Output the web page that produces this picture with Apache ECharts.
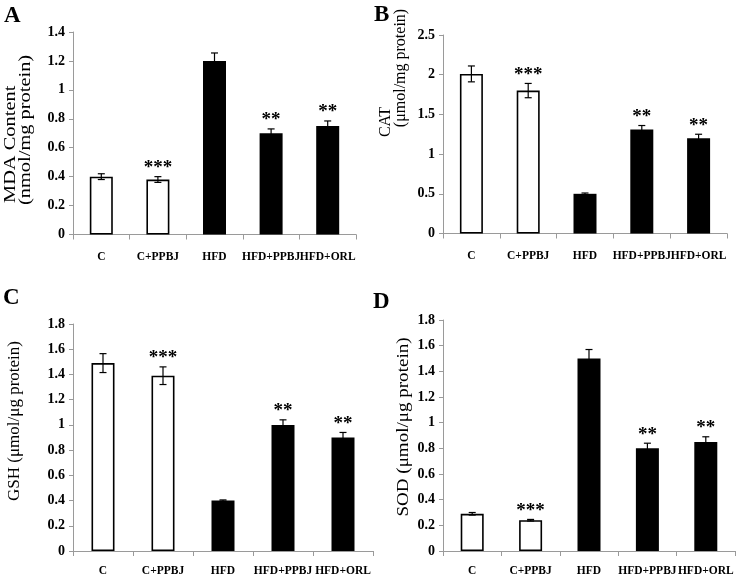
<!DOCTYPE html>
<html>
<head>
<meta charset="utf-8">
<script src="https://cdn.jsdelivr.net/npm/echarts@6/dist/echarts.min.js"></script>
<style>html,body{margin:0;padding:0;background:#fff;}#c{width:737px;height:579px;}</style>
</head>
<body>
<div id="c"></div>
<script>
// ---- data ----
const categories = ['C', 'C+PPBJ', 'HFD', 'HFD+PPBJ', 'HFD+ORL'];
const mdaVals = [0.40, 0.38, 1.20, 0.70, 0.75];
const mdaErr  = [0.02, 0.02, 0.055, 0.03, 0.035];
const catVals = [2.01, 1.80, 0.50, 1.31, 1.20];
const catErr  = [0.10, 0.09, 0.01, 0.05, 0.05];
const gshVals = [1.49, 1.39, 0.40, 1.00, 0.90];
const gshErr  = [0.075, 0.07, 0.005, 0.04, 0.04];
const sodVals = [0.29, 0.24, 1.50, 0.80, 0.85];
const sodErr  = [0.01, 0.006, 0.07, 0.04, 0.04];
const sigMarks = ['', '***', '', '**', '**'];
const yMax = [1.4, 2.5, 1.8, 1.8];
const yStep = [0.2, 0.5, 0.2, 0.2];

// ---- layout ----
const SERIF = '"Liberation Serif", "Times New Roman", serif';
const grids = [
  {left: 73, top: 32, width: 283, height: 202.5},
  {left: 443, top: 35, width: 284, height: 198.5},
  {left: 73, top: 324, width: 300, height: 227},
  {left: 443, top: 320, width: 292, height: 231}
];
const panels = [
  {vals: mdaVals, err: mdaErr},
  {vals: catVals, err: catErr},
  {vals: gshVals, err: gshErr},
  {vals: sodVals, err: sodErr}
];
const axisGray = '#9a9a9a';

const xAxes = grids.map((g, k) => ({
  type: 'category', gridIndex: k, data: categories,
  axisLine: {lineStyle: {color: axisGray, width: 1}},
  axisTick: {show: true, length: 5, lineStyle: {color: axisGray}},
  axisLabel: {interval: 0, color: '#000', fontFamily: SERIF, fontWeight: 'bold', fontSize: 11.5, margin: k < 2 ? 17 : 14}
}));
const yAxes = grids.map((g, k) => ({
  type: 'value', gridIndex: k, min: 0, max: yMax[k], interval: yStep[k],
  axisLine: {show: true, lineStyle: {color: axisGray, width: 1}},
  axisTick: {show: true, length: 4, lineStyle: {color: axisGray}},
  splitLine: {show: false},
  axisLabel: {color: '#000', fontFamily: SERIF, fontWeight: 'bold', fontSize: 14, margin: 8}
}));

const series = [];
panels.forEach((p, k) => {
  series.push({
    type: 'bar', xAxisIndex: k, yAxisIndex: k, barWidth: 23,
    data: p.vals.map((v, i) => ({
      value: v,
      itemStyle: i < 2 ? {color: '#fff', borderColor: '#000', borderWidth: 1.6} : {color: '#000', borderColor: '#000', borderWidth: 0}
    })),
    animation: false
  });
  series.push({
    type: 'custom', xAxisIndex: k, yAxisIndex: k, z: 5,
    data: p.vals.map((v, i) => [i, v, p.err[i]]),
    encode: {x: 0, y: 1},
    renderItem: function (params, api) {
      const i = api.value(0), v = api.value(1), e = api.value(2);
      const t = api.coord([i, v + e]);
      const b = api.coord([i, v - e]);
      const hw = 3.5;
      const st = {stroke: '#000', lineWidth: 1.2};
      const children = [
        {type: 'line', shape: {x1: t[0], y1: t[1], x2: b[0], y2: b[1]}, style: st},
        {type: 'line', shape: {x1: t[0] - hw, y1: t[1], x2: t[0] + hw, y2: t[1]}, style: st},
        {type: 'line', shape: {x1: b[0] - hw, y1: b[1], x2: b[0] + hw, y2: b[1]}, style: st}
      ];
      const s = sigMarks[params.dataIndex];
      if (s) {
        children.push({type: 'text', x: t[0], y: t[1] + 1,
          style: {text: s, fill: '#000', font: 'bold 19px ' + SERIF, align: 'center', verticalAlign: 'bottom'}});
      }
      return {type: 'group', children: children};
    },
    animation: false
  });
});

function vText(text, x, y, size, align, stretch) {
  return {type: 'text', x: x, y: y, rotation: Math.PI / 2, scaleX: stretch || 1,
    style: {text: text, fill: '#000', font: size + 'px ' + SERIF, align: align, verticalAlign: 'middle'}};
}
function letter(text, x, y) {
  return {type: 'text', x: x, y: y, style: {text: text, fill: '#000', font: 'bold 23px ' + SERIF, align: 'left', verticalAlign: 'top'}};
}

const option = {
  animation: false,
  backgroundColor: '#fff',
  grid: grids.map(g => Object.assign({containLabel: false}, g)),
  xAxis: xAxes,
  yAxis: yAxes,
  series: series,
  graphic: [
    letter('A', 4, 5), letter('B', 374, 4), letter('C', 3, 287), letter('D', 373, 291),
    vText('MDA Content', 11, 203, 17, 'left', 1.2),
    vText('(nmol/mg protein)', 26, 205, 17, 'left', 1.2),
    vText('CAT', 386, 122, 16, 'center'),
    vText('(μmol/mg protein)', 401, 68, 16, 'center'),
    vText('GSH (μmol/μg protein)', 15, 421, 17, 'center'),
    vText('SOD (μmol/μg protein)', 404, 427, 17, 'center', 1.12)
  ]
};
echarts.init(document.getElementById('c'), null, {renderer: 'canvas'}).setOption(option);
</script>
</body>
</html>
